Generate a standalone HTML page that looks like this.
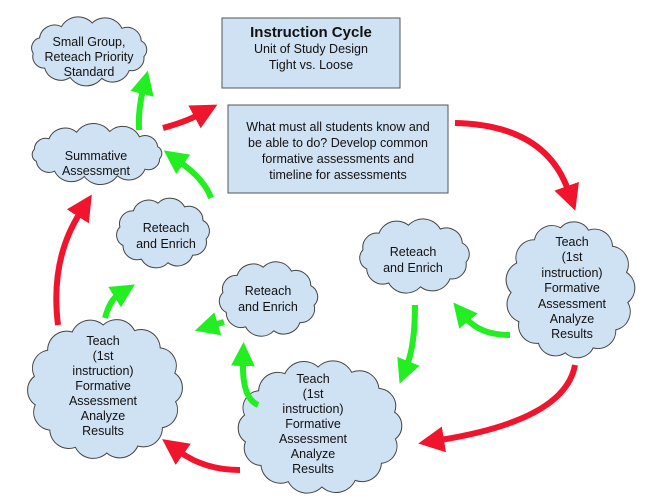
<!DOCTYPE html>
<html><head><meta charset="utf-8"><style>
html,body{margin:0;padding:0;background:#fff}
svg{display:block}
text{font-family:"Liberation Sans",sans-serif;font-size:12.5px;fill:#111}
</style></head><body>
<svg id="s" width="667" height="504" viewBox="0 0 667 504" xmlns="http://www.w3.org/2000/svg">
<defs>
<marker id="mr" markerUnits="userSpaceOnUse" markerWidth="30" markerHeight="30" refX="4" refY="13" orient="auto"><polygon points="0,0 26,13 0,26" fill="#f0142c"/></marker>
<marker id="mg" markerUnits="userSpaceOnUse" markerWidth="30" markerHeight="30" refX="4" refY="12" orient="auto"><polygon points="0,0 24,12 0,24" fill="#22ee22"/></marker>
</defs>
<g id="clouds"></g>
<rect x="222" y="18" width="178" height="70" fill="#cfe2f3" stroke="#555" stroke-width="1"/>
<text x="311" y="37" text-anchor="middle" style="font-size:15px;font-weight:bold">Instruction Cycle</text>
<text x="311" y="53" text-anchor="middle">Unit of Study Design</text>
<text x="311" y="69" text-anchor="middle">Tight vs. Loose</text>
<rect x="228" y="105" width="220" height="88" fill="#cfe2f3" stroke="#555" stroke-width="1"/>
<text x="338" y="131" text-anchor="middle">What must all students know and</text>
<text x="338" y="147" text-anchor="middle">be able to do? Develop common</text>
<text x="338" y="163" text-anchor="middle">formative assessments and</text>
<text x="338" y="179" text-anchor="middle">timeline for assessments</text>
<g fill="none" stroke-width="6">
<path d="M163,128 Q185,122 198,115" stroke="#f0142c" marker-end="url(#mr)"/>
<path d="M455,123 Q545,125 568,190" stroke="#f0142c" marker-end="url(#mr)"/>
<path d="M575,365 Q565,420 440,440" stroke="#f0142c" marker-end="url(#mr)"/>
<path d="M240,470 Q205,470 180,452" stroke="#f0142c" marker-end="url(#mr)"/>
<path d="M58,325 Q50,260 80,213" stroke="#f0142c" marker-end="url(#mr)"/>
<path d="M139,130 Q138,110 143,90" stroke="#22ee22" marker-end="url(#mg)"/>
<path d="M211,198 Q205,180 180,162" stroke="#22ee22" marker-end="url(#mg)"/>
<path d="M105,318 Q110,300 118,295" stroke="#22ee22" marker-end="url(#mg)"/>
<path d="M224,322 L214,325" stroke="#22ee22" marker-end="url(#mg)"/>
<path d="M258,405 Q242,398 243,362" stroke="#22ee22" marker-end="url(#mg)"/>
<path d="M415,305 Q415,345 407,365" stroke="#22ee22" marker-end="url(#mg)"/>
<path d="M510,335 Q480,335 466,318" stroke="#22ee22" marker-end="url(#mg)"/>
</g>
<g text-anchor="middle">
<text x="89" y="46">Small Group,</text><text x="89" y="61">Reteach Priority</text><text x="89" y="76">Standard</text>
<text x="96" y="160">Summative</text><text x="96" y="175">Assessment</text>
<text x="166" y="232">Reteach</text><text x="166" y="248">and Enrich</text>
<text x="268" y="295">Reteach</text><text x="268" y="311">and Enrich</text>
<text x="413" y="256">Reteach</text><text x="413" y="272">and Enrich</text>
<text x="572" y="246">Teach</text><text x="572" y="261">(1st</text><text x="572" y="277">instruction)</text><text x="572" y="292">Formative</text><text x="572" y="308">Assessment</text><text x="572" y="323">Analyze</text><text x="572" y="338">Results</text>
<text x="103" y="345">Teach</text><text x="103" y="360">(1st</text><text x="103" y="375">instruction)</text><text x="103" y="390">Formative</text><text x="103" y="405">Assessment</text><text x="103" y="420">Analyze</text><text x="103" y="435">Results</text>
<text x="313" y="383">Teach</text><text x="313" y="398">(1st</text><text x="313" y="413">instruction)</text><text x="313" y="428">Formative</text><text x="313" y="443">Assessment</text><text x="313" y="458">Analyze</text><text x="313" y="473">Results</text>
</g>
</svg>
<script>
(function(){
var g=document.getElementById('clouds');
function cloud(x1,y1,x2,y2,n){
 var cx=(x1+x2)/2,cy=(y1+y2)/2,rx=(x2-x1)/2-5,ry=(y2-y1)/2-5,pts=[],d='';
 for(var i=0;i<n;i++){var a=2*Math.PI*i/n+0.2;pts.push([cx+rx*Math.cos(a),cy+ry*Math.sin(a)]);}
 d='M'+pts[0][0].toFixed(1)+','+pts[0][1].toFixed(1);
 for(var i=0;i<n;i++){var p=pts[i],q=pts[(i+1)%n];var c=Math.hypot(q[0]-p[0],q[1]-p[1]);var r=c*0.62;
  d+=' A'+r.toFixed(1)+','+r.toFixed(1)+' 0 0 1 '+q[0].toFixed(1)+','+q[1].toFixed(1);}
 d+='Z';
 var e=document.createElementNS('http://www.w3.org/2000/svg','path');
 e.setAttribute('d',d);e.setAttribute('fill','#cfe2f3');e.setAttribute('stroke','#444');e.setAttribute('stroke-width','1');
 g.appendChild(e);
}
cloud(28,18,150,84,11);
cloud(28,126,166,182,12);
cloud(114,198,212,268,10);
cloud(217,262,320,336,10);
cloud(357,220,472,292,10);
cloud(506,222,634,358,13);
cloud(28,320,182,458,14);
cloud(238,362,402,492,14);
})();
</script>
</body></html>
